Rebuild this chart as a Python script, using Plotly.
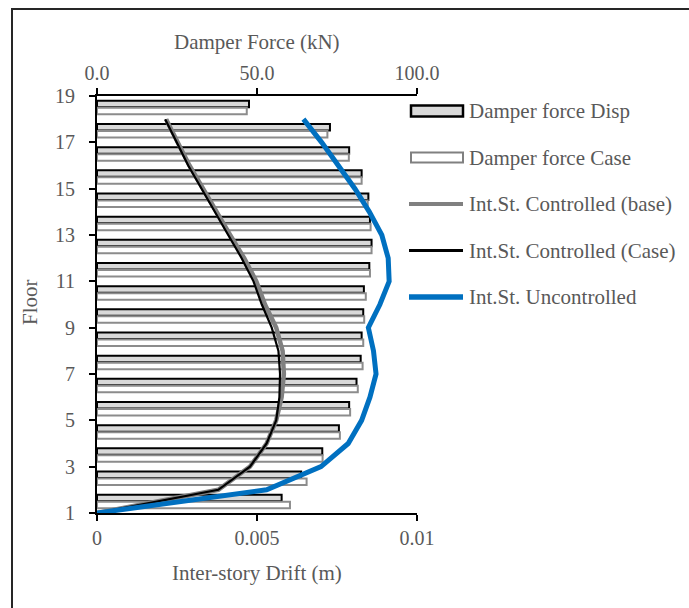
import plotly.graph_objects as go

# Storey levels
floors = list(range(1, 19))                      # floors where drift is reported
bar_floors = [f + 0.5 for f in floors]           # damper force sits between floors

# Damper forces (kN)
force_disp = [57.7, 63.8, 70.4, 75.6, 78.8, 81.1, 82.4, 82.7, 83.2,
              83.4, 85.1, 85.8, 85.3, 84.8, 82.7, 78.8, 72.8, 47.5]
force_case = [60.3, 65.5, 70.5, 75.9, 79.1, 81.5, 83.0, 83.2, 83.5,
              84.0, 85.3, 85.8, 85.5, 84.6, 82.7, 78.7, 72.0, 46.8]

# Inter-story drift (m)
drift_base = [0.0, 0.00379, 0.00478, 0.00530, 0.00560, 0.00577, 0.00584, 0.00580, 0.00560,
              0.00525, 0.00498, 0.00460, 0.00416, 0.00374, 0.00331, 0.00289, 0.00252, 0.00216]
drift_case = [0.0, 0.00379, 0.00478, 0.00530, 0.00560, 0.00570, 0.00572, 0.00567, 0.00546,
              0.00515, 0.00489, 0.00452, 0.00410, 0.00369, 0.00327, 0.00285, 0.00249, 0.00213]
drift_unc = [0.0, 0.00530, 0.00700, 0.00785, 0.00827, 0.00853, 0.00872, 0.00864, 0.00848,
             0.00884, 0.00913, 0.00910, 0.00890, 0.00851, 0.00806, 0.00754, 0.00702, 0.00645]

y_ticks = list(range(1, 20, 2))
force_ticks = [0, 50, 100]
force_ticktext = ["0.0", "50.0", "100.0"]
drift_ticks = [0, 0.005, 0.01]
drift_ticktext = ["0", "0.005", "0.01"]

legend_labels = ["Damper force Disp", "Damper force Case",
                 "Int.St. Controlled (base)", "Int.St. Controlled (Case)",
                 "Int.St. Uncontrolled"]

FONT = "Liberation Serif"
TXT = "#595959"
W, H = 689, 608
L, R, T, B = 97, 272, 96, 95
PW, PH = W - L - R, H - T - B

def px(x):
    return (x - L) / PW

def py(y):
    return (H - B - y) / PH

fig = go.Figure()

# Damper force bars (top axis)
fig.add_trace(go.Bar(
    y=bar_floors, x=force_disp, orientation="h", xaxis="x", yaxis="y",
    width=0.28, offset=0.01, name=legend_labels[0],
    marker=dict(color="#d9d9d9", line=dict(color="black", width=2)),
    showlegend=False))
fig.add_trace(go.Bar(
    y=bar_floors, x=force_case, orientation="h", xaxis="x", yaxis="y",
    width=0.28, offset=-0.29, name=legend_labels[1],
    marker=dict(color="white", line=dict(color="#8c8c8c", width=2)),
    showlegend=False))

# Drift lines (bottom axis)
fig.add_trace(go.Scatter(
    x=drift_base, y=floors, mode="lines", xaxis="x2", yaxis="y",
    name=legend_labels[2], line=dict(color="#808080", width=4.5),
    showlegend=False))
fig.add_trace(go.Scatter(
    x=drift_case, y=floors, mode="lines", xaxis="x2", yaxis="y",
    name=legend_labels[3], line=dict(color="black", width=2.2),
    showlegend=False))
fig.add_trace(go.Scatter(
    x=drift_unc, y=floors, mode="lines", xaxis="x2", yaxis="y",
    name=legend_labels[4], line=dict(color="#0070c0", width=5),
    showlegend=False))

axis_common = dict(
    showline=True, linecolor="black", linewidth=2,
    ticks="outside", ticklen=6, tickwidth=2, tickcolor="black",
    showgrid=False, zeroline=False,
    tickfont=dict(family=FONT, size=20, color=TXT),
)

shapes = []
annotations = []

# Legend drawn beside the plot
rows = [111, 157.5, 204, 250.5, 297]
sx0, sx1, tx = 411, 463, 467
shapes.append(dict(type="rect", xref="paper", yref="paper",
                   x0=px(sx0), x1=px(sx1), y0=py(rows[0] + 5.5), y1=py(rows[0] - 5.5),
                   fillcolor="#d9d9d9", line=dict(color="black", width=2.5)))
shapes.append(dict(type="rect", xref="paper", yref="paper",
                   x0=px(sx0), x1=px(sx1), y0=py(rows[1] + 5), y1=py(rows[1] - 5),
                   fillcolor="white", line=dict(color="#808080", width=2)))
line_styles = [("#808080", 4), ("black", 3), ("#0070c0", 5.5)]
for r, (c, w) in zip(rows[2:], line_styles):
    shapes.append(dict(type="line", xref="paper", yref="paper",
                       x0=px(sx0 - 2), x1=px(sx1), y0=py(r), y1=py(r),
                       line=dict(color=c, width=w)))
for r, lab in zip(rows, legend_labels):
    annotations.append(dict(xref="paper", yref="paper", x=px(tx), y=py(r),
                            text=lab, showarrow=False, xanchor="left", yanchor="middle",
                            font=dict(family=FONT, size=21, color=TXT)))

# Outer frame
shapes.append(dict(type="rect", xref="paper", yref="paper",
                   x0=px(12), x1=px(W + 20), y0=py(H + 20), y1=py(9),
                   line=dict(color="#262626", width=2), fillcolor="rgba(0,0,0,0)",
                   layer="below"))

# Axis titles
annotations.append(dict(xref="paper", yref="paper", x=0.5, y=py(42),
                        text="Damper Force (kN)", showarrow=False,
                        xanchor="center", yanchor="middle",
                        font=dict(family=FONT, size=21, color=TXT)))
annotations.append(dict(xref="paper", yref="paper", x=0.5, y=py(573),
                        text="Inter-story Drift (m)", showarrow=False,
                        xanchor="center", yanchor="middle",
                        font=dict(family=FONT, size=21, color=TXT)))
annotations.append(dict(xref="paper", yref="paper", x=px(30), y=py(302),
                        text="Floor", showarrow=False, textangle=-90,
                        xanchor="center", yanchor="middle",
                        font=dict(family=FONT, size=21, color=TXT)))

fig.update_layout(
    width=W, height=H,
    margin=dict(l=L, r=R, t=T, b=B),
    paper_bgcolor="white", plot_bgcolor="white",
    font=dict(family=FONT, color=TXT),
    barmode="overlay",
    showlegend=False,
    xaxis=dict(range=[0, 100], side="top", tickvals=force_ticks,
               ticktext=force_ticktext, **axis_common),
    xaxis2=dict(range=[0, 0.01], side="bottom", overlaying="x",
                tickvals=drift_ticks, ticktext=drift_ticktext, **axis_common),
    yaxis=dict(range=[1, 19], tickvals=y_ticks, ticklabelstandoff=10, **axis_common),
    shapes=shapes,
    annotations=annotations,
)

fig.write_html("out.html")
